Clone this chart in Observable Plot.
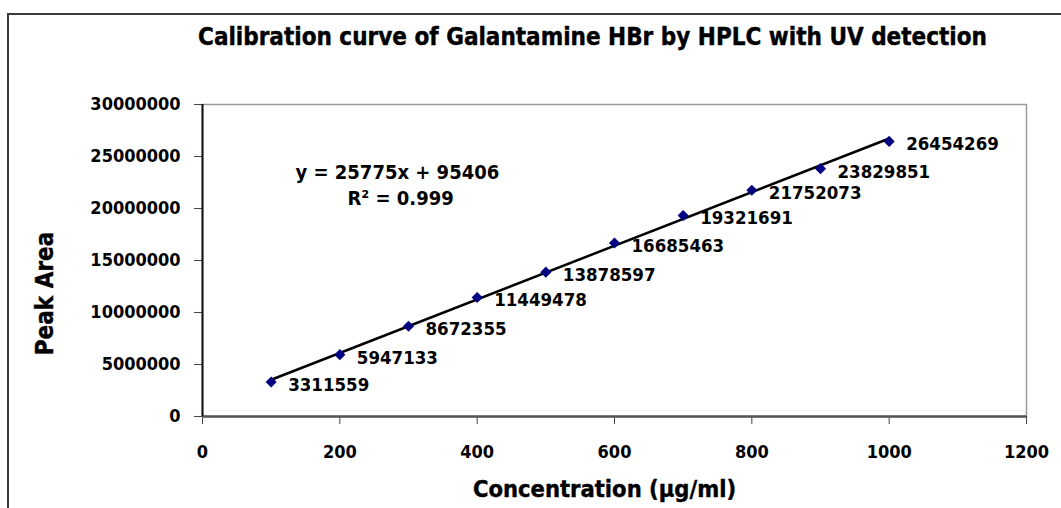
<!DOCTYPE html>
<html>
<head>
<meta charset="utf-8">
<script src="https://cdn.jsdelivr.net/npm/d3@7"></script>
<script src="https://cdn.jsdelivr.net/npm/@observablehq/plot@0.6"></script>
<style>
  html, body { margin: 0; padding: 0; background: #fff; }
  #wrap { position: relative; width: 1061px; height: 508px; overflow: hidden; }
  #border { position: absolute; left: 7px; top: 13px; width: 1100px; height: 600px;
            border-left: 2px solid #3a3a3a; border-top: 2px solid #3a3a3a; pointer-events: none; }
  svg { font-family: "DejaVu Sans Condensed", "DejaVu Sans", sans-serif; font-stretch: condensed; font-weight: bold; }
</style>
</head>
<body>
<div id="wrap"><div id="border"></div></div>
<script>
const concentration = [100, 200, 300, 400, 500, 600, 700, 800, 900, 1000];
const peakArea = [3311559, 5947133, 8672355, 11449478, 13878597, 16685463, 19321691, 21752073, 23829851, 26454269];
const xTicks = [0, 200, 400, 600, 800, 1000, 1200];
const yTicks = [0, 5000000, 10000000, 15000000, 20000000, 25000000, 30000000];
const titleText = "Calibration curve of Galantamine HBr by HPLC with UV detection";
const xLabel = "Concentration (µg/ml)";
const yLabel = "Peak Area";
const equationLines = ["y = 25775x + 95406", "R² = 0.999"];

const data = concentration.map((c, i) => ({x: c, y: peakArea[i]}));
const heavy = {stroke: "#000", strokeWidth: 0.4, fill: "#000"};

const chart = Plot.plot({
  width: 1061,
  height: 508,
  marginLeft: 202,
  marginRight: 35,
  marginTop: 104,
  marginBottom: 92,
  style: {fontFamily: '"DejaVu Sans Condensed", "DejaVu Sans", sans-serif', fontWeight: "bold", fontSize: "18px", color: "#000", background: "transparent"},
  x: {domain: [0, 1200], ticks: xTicks, tickFormat: d3.format("d"), label: null},
  y: {domain: [0, 30000000], ticks: yTicks, tickFormat: d3.format("d"), label: null},
  marks: [
    Plot.frame({stroke: "#9a9a9a", strokeWidth: 1.5}),
    Plot.axisX({ticks: xTicks, tickFormat: d3.format("d"), tickSize: 8, tickPadding: 21, stroke: "#444", fontSize: 18, label: null}),
    Plot.axisY({ticks: yTicks, tickFormat: d3.format("d"), tickSize: 8, tickPadding: 14, stroke: "#444", fontSize: 18, label: null}),
    Plot.ruleY([0], {stroke: "#555", strokeWidth: 2.5}),
    Plot.ruleX([0], {stroke: "#111", strokeWidth: 2}),
    Plot.linearRegressionY(data, {x: "x", y: "y", ci: 0, stroke: "#000", strokeWidth: 2.5}),
    Plot.dot(data, {x: "x", y: "y", symbol: "diamond2", r: 5, fill: "#000080", stroke: "none"}),
    Plot.text(data, {x: "x", y: "y", text: d => String(d.y), textAnchor: "start", lineAnchor: "middle", dx: 17, dy: 3, fontSize: 18.5, fill: "#000"}),
    Plot.text([equationLines[0]], {frameAnchor: "top-left", textAnchor: "start", lineAnchor: "middle", dx: 93, dy: 68, fontSize: 20, fill: "#000"}),
    Plot.text([equationLines[1]], {frameAnchor: "top-left", textAnchor: "start", lineAnchor: "middle", dx: 145, dy: 94, fontSize: 20, fill: "#000"}),
    Plot.text([titleText], {frameAnchor: "top", textAnchor: "middle", lineAnchor: "middle", dx: -22, dy: -67, fontSize: 24, ...heavy}),
    Plot.text([xLabel], {frameAnchor: "bottom", textAnchor: "middle", lineAnchor: "middle", dx: -10, dy: 73, fontSize: 23.5, ...heavy}),
    Plot.text([yLabel], {frameAnchor: "left", textAnchor: "middle", lineAnchor: "middle", dx: -157, dy: 33, rotate: -90, fontSize: 24, ...heavy})
  ]
});
document.getElementById("wrap").prepend(chart);
</script>
</body>
</html>
